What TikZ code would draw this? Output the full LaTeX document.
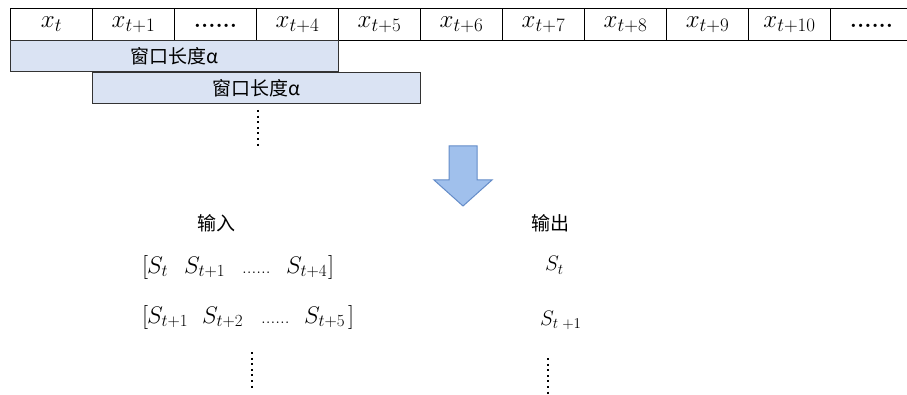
\RequirePackage{fix-cm}
\documentclass[tikz,border=0pt]{standalone}
\usepackage{fontspec}
\newfontfamily\cjk{Noto Sans CJK SC}
\DeclareMathSizes{25}{25}{19}{14}
\DeclareMathSizes{24}{24}{17}{12}
\DeclareMathSizes{21}{21}{15}{11}
\definecolor{winfill}{RGB}{218,227,243}
\definecolor{arrfill}{RGB}{160,192,236}
\definecolor{arrdraw}{RGB}{100,140,200}
\tikzset{
  cell/.style={draw=black, line width=1pt, minimum width=82pt, minimum height=32pt, inner sep=0pt, text height=11pt, text depth=4pt, anchor=north west, font=\fontsize{25}{27}\selectfont},
  win/.style={draw=black!80, fill=winfill, line width=1pt, minimum width=328pt, minimum height=31pt, inner sep=0pt, anchor=north west, font=\cjk\fontsize{19}{21}\selectfont},
  lbl/.style={font=\cjk\fontsize{19}{21}\selectfont, inner sep=0pt},
  seq/.style={font=\fontsize{24}{26}\selectfont, inner sep=0pt, anchor=base west},
  outs/.style={font=\fontsize{21}{23}\selectfont, inner sep=0pt, anchor=base west},
  vdots/.style={line width=2.4pt, dash pattern=on 2pt off 3.6pt},
}
\newcommand{\smalldots}{\fontsize{19}{21}\selectfont......}
\newcommand{\celldots}{\fontsize{23}{25}\selectfont\textbf{......}}
\begin{document}
\begin{tikzpicture}[x=1pt,y=-1pt]
\useasboundingbox (0,0) rectangle (907,395);
\clip (0,0) rectangle (907,395);
\foreach \lab [count=\i from 0] in {{$x_t$},{$x_{t+1}$},{\celldots},{$x_{t+4}$},{$x_{t+5}$},{$x_{t+6}$},{$x_{t+7}$},{$x_{t+8}$},{$x_{t+9}$},{$x_{t+10}$},{\celldots}}{
  \node[cell] (c\i) at ({10+82*\i},8) {\lab};
}
\node[win] (w1) at (10,40) {窗口长度α};
\node[win] (w2) at (92,72) {窗口长度α};
\coordinate (d1a) at (258,110);
\coordinate (d1b) at (258,146);
\draw[vdots] (d1a) -- (d1b);
\draw[fill=arrfill, draw=arrdraw, line width=1pt] (449,146) -- (477,146) -- (477,180) -- (492,180) -- (463,206) -- (434,180) -- (449,180) -- cycle;
\node[lbl] (in) at (216,223) {输入};
\node[lbl] (out) at (550,223) {输出};
% row 1
\node[seq] (r1l) at (142,273) {$[$};
\node[seq] (r1a) at (147,273) {$S_t$};
\node[seq] (r1b) at (184,273) {$S_{t+1}$};
\node[seq] (r1c) at (242,273) {\smalldots};
\node[seq] (r1d) at (286,273) {$S_{t+4}$};
\node[seq] (r1r) at (328,273) {$]$};
% row 2
\node[seq] (r2l) at (142,323) {$[$};
\node[seq] (r2a) at (147,323) {$S_{t+1}$};
\node[seq] (r2b) at (202,323) {$S_{t+2}$};
\node[seq] (r2c) at (261,323) {\smalldots};
\node[seq] (r2d) at (304,323) {$S_{t+5}$};
\node[seq] (r2r) at (348,323) {$]$};
% outputs
\node[outs] (o1) at (545,271) {$S_t$};
\node[outs] (o2) at (540,325) {$S_{t\;+1}$};
\coordinate (d2a) at (252,352);
\coordinate (d2b) at (252,389);
\draw[vdots] (d2a) -- (d2b);
\coordinate (d3a) at (548,358);
\coordinate (d3b) at (548,395);
\draw[vdots] (d3a) -- (d3b);
\end{tikzpicture}
\end{document}
